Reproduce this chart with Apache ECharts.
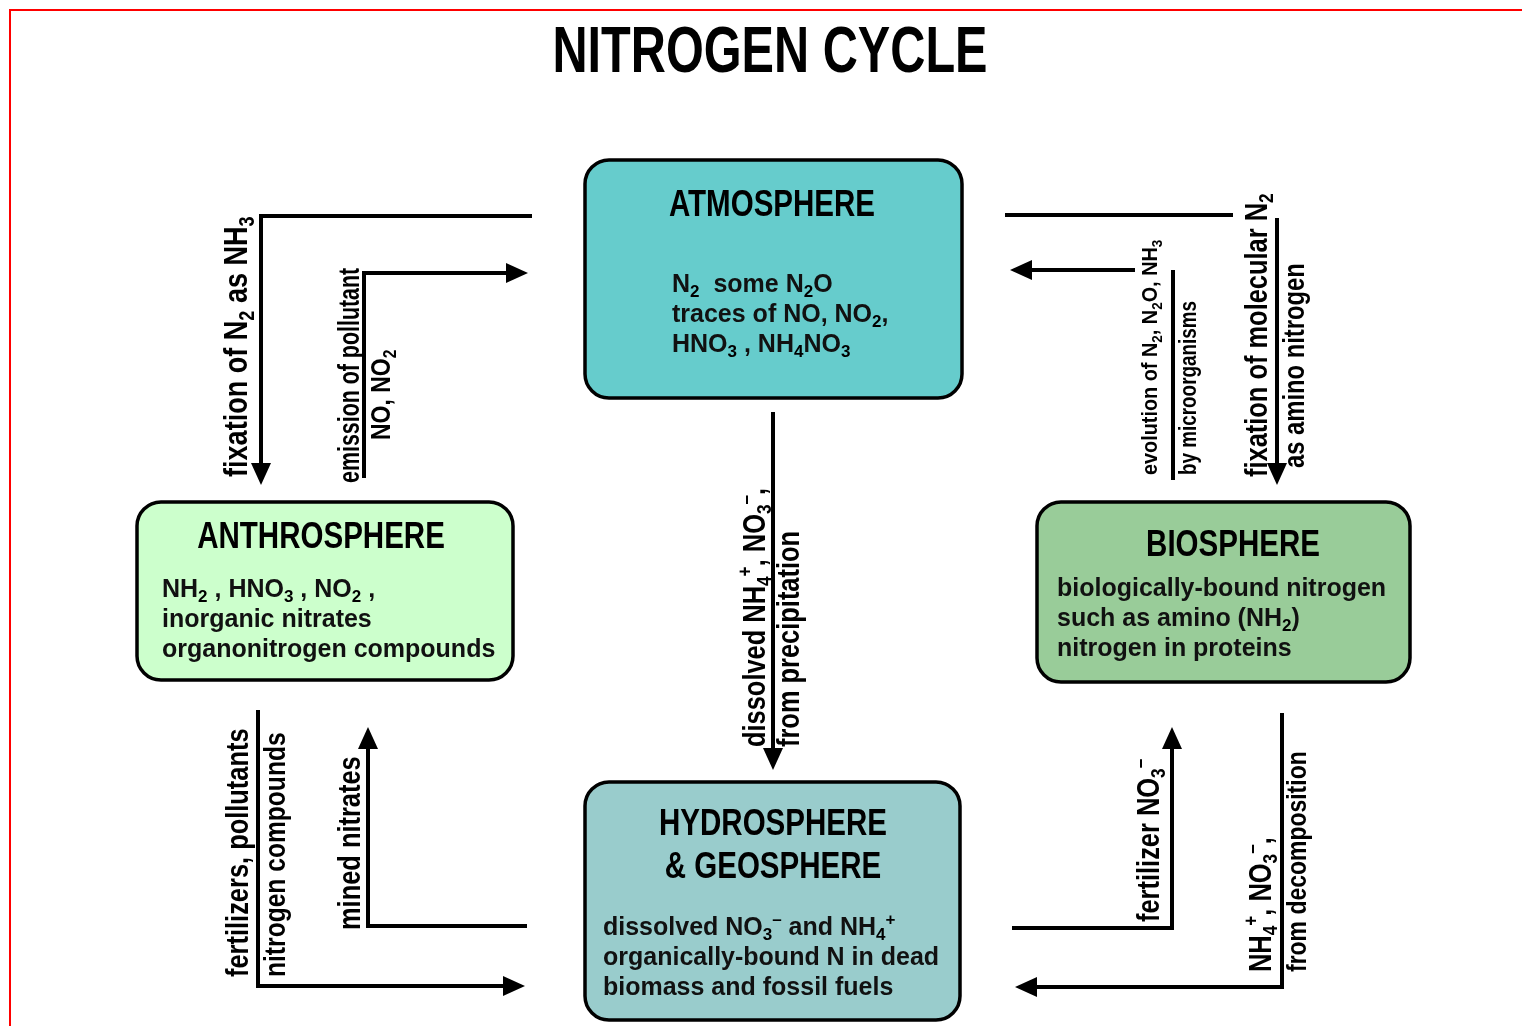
<!DOCTYPE html>
<html>
<head>
<meta charset="utf-8">
<title>Nitrogen cycle</title>
<script src="https://cdn.jsdelivr.net/npm/echarts@6.0.0/dist/echarts.min.js"></script>
<style>
html, body { margin: 0; padding: 0; background: #fff; }
#nitrogen_chart { width: 1522px; height: 1026px; }
</style>
</head>
<body>
<div id="nitrogen_chart"></div>
<script>
var FONT = '"Liberation Sans", Arimo, "DejaVu Sans", sans-serif';
// no narrow face installed: squeeze the normal one instead
var NARROW_SCALE = 0.82;

// ---- texts of the diagram ----
var chartTitle = 'NITROGEN CYCLE';

var sphereNames = ['ATMOSPHERE', 'ANTHROSPHERE', 'BIOSPHERE', 'HYDROSPHERE\n& GEOSPHERE'];

var sphereContents = [
	'N{sub|2}  some N{sub|2}O\ntraces of NO, NO{sub|2},\nHNO{sub|3} , NH{sub|4}NO{sub|3}',
	'NH{sub|2} , HNO{sub|3} , NO{sub|2} ,\ninorganic nitrates\norganonitrogen compounds',
	'biologically-bound nitrogen\nsuch as amino (NH{sub|2})\nnitrogen in proteins',
	'dissolved NO{sub|3}{sup|\u2013} and NH{sub|4}{sup|+}\norganically-bound N in dead\nbiomass and fossil fuels'
];

var flowLabels = [
	'fixation of N{sub|2} as NH{sub|3}',
	'emission of pollutant',
	'NO, NO{sub|2}',
	'evolution of N{sub|2}, N{sub|2}O, NH{sub|3}',
	'by microorganisms',
	'fixation of molecular N{sub|2}',
	'as amino nitrogen',
	'dissolved NH{sub|4}{sup|+}, NO{sub|3}{sup|\u2013},',
	'from precipitation',
	'fertilizers, pollutants',
	'nitrogen compounds',
	'mined nitrates',
	'fertilizer NO{sub|3}{sup|\u2013}',
	'NH{sub|4}{sup|+}, NO{sub|3}{sup|\u2013},',
	'from decomposition'
];

// ---- layout (page pixels, y downwards) ----
var sphereBoxes = [[585, 160, 962, 398], [137, 502, 513, 680], [1037, 502, 1410, 682], [585, 782, 960, 1020]];
var sphereColors = ['#66cccc', '#ccffcc', '#99cc99', '#99cccc'];
var nameAnchors = [[772, 206], [321, 538], [1233, 546], [773, 847]];
var contentAnchors = [[672, 315], [162, 620], [1057, 619], [603, 958]];

var flowPaths = [
	{pts: [[532, 216], [261, 216], [261, 485]], head: true},
	{pts: [[364, 478], [364, 273], [528, 273]], head: true},
	{pts: [[1005, 215], [1233, 215]], head: false},
	{pts: [[1277, 218], [1277, 485]], head: true},
	{pts: [[1135, 270], [1010, 270]], head: true},
	{pts: [[1173, 270], [1173, 480]], head: false},
	{pts: [[773, 412], [773, 770]], head: true},
	{pts: [[258, 710], [258, 986], [525, 986]], head: true},
	{pts: [[527, 926], [368, 926], [368, 727]], head: true},
	{pts: [[1012, 928], [1172, 928], [1172, 727]], head: true},
	{pts: [[1282, 713], [1282, 987], [1015, 987]], head: true}
];

// [centre x, start y (bottom end), font size, squeeze along the text]
var labelLayout = [
	[238, 477, 33, 1],
	[351, 483, 29, 0.9],
	[382, 440, 28, 1],
	[1151, 475, 22, 1.1],
	[1190, 475, 23, 1],
	[1258, 477, 31, 1],
	[1296, 468, 29, 1],
	[756, 747, 31, 1],
	[790, 747, 31, 1],
	[239, 977, 31, 1],
	[277, 977, 30, 1],
	[351, 930, 31, 1],
	[1150, 922, 31, 1],
	[1262, 972, 31, 1],
	[1298, 972, 28, 1]
];

var richFor = function (size, lh) {
	var small = Math.round(size * 0.68);
	var shift = Math.round(size * 0.6);
	var base = {fontSize: small, fontFamily: FONT, fontWeight: 'bold', fill: '#000', lineHeight: Math.round(lh * 0.6)};
	return {
		sub: echarts.util.extend({padding: [shift, 0, 0, 0]}, base),
		sup: echarts.util.extend({padding: [0, 0, shift, 0]}, base)
	};
};

var renderSphere = function (params, api) {
	var i = params.dataIndex;
	var b = sphereBoxes[i];
	var p0 = api.coord([b[0], b[1]]), p1 = api.coord([b[2], b[3]]);
	var n = api.coord(nameAnchors[i]);
	var c = api.coord(contentAnchors[i]);
	return {
		type: 'group',
		children: [
			{type: 'rect', shape: {x: p0[0], y: p0[1], width: p1[0] - p0[0], height: p1[1] - p0[1], r: 24},
				style: {fill: sphereColors[i], stroke: '#000', lineWidth: 3.5}},
			{type: 'text', x: n[0], y: n[1], scaleX: NARROW_SCALE,
				style: {text: sphereNames[i], fontFamily: FONT, fontWeight: 'bold', fontSize: 36, lineHeight: 43,
					fill: '#000', align: 'center', verticalAlign: 'middle'}},
			{type: 'text', x: c[0], y: c[1],
				style: {text: sphereContents[i], fontFamily: FONT, fontWeight: 'bold', fontSize: 25, lineHeight: 30,
					fill: '#111', align: 'left', verticalAlign: 'middle', rich: richFor(25, 30)}}
		]
	};
};

var renderFlow = function (params, api) {
	var f = flowPaths[params.dataIndex];
	var pts = f.pts.map(function (d) { return api.coord(d); });
	var children = [];
	if (f.head) {
		var a = pts[pts.length - 2], t = pts[pts.length - 1];
		var dx = t[0] - a[0], dy = t[1] - a[1];
		var len = Math.sqrt(dx * dx + dy * dy);
		dx /= len; dy /= len;
		var L = 22, W = 10;
		var bx = t[0] - dx * L, by = t[1] - dy * L;
		children.push({type: 'polygon', shape: {points: [t, [bx - dy * W, by + dx * W], [bx + dy * W, by - dx * W]]},
			style: {fill: '#000'}});
		pts[pts.length - 1] = [t[0] - dx * L * 0.6, t[1] - dy * L * 0.6];
	}
	children.unshift({type: 'polyline', shape: {points: pts},
		style: {stroke: '#000', lineWidth: 4, fill: null, lineJoin: 'miter', lineCap: 'butt'}});
	return {type: 'group', children: children};
};

var renderLabel = function (params, api) {
	var l = labelLayout[params.dataIndex];
	var p = api.coord([l[0], l[1]]);
	var lh = Math.round(l[2] * 1.2);
	return {
		type: 'text', x: p[0], y: p[1], rotation: Math.PI / 2, scaleX: NARROW_SCALE * l[3],
		style: {text: flowLabels[params.dataIndex], fontFamily: FONT, fontWeight: 'bold', fontSize: l[2],
			lineHeight: lh, fill: '#000', align: 'left', verticalAlign: 'middle', rich: richFor(l[2], lh)}
	};
};

var indexData = function (list) {
	return list.map(function (item, i) { return [i, 0]; });
};

var myChart = echarts.init(document.getElementById('nitrogen_chart'));
var option = {
	animation: false,
	backgroundColor: '#fff',
	grid: {left: 0, right: 0, top: 0, bottom: 0},
	xAxis: {type: 'value', min: 0, max: 1522, show: false},
	yAxis: {type: 'value', min: 0, max: 1026, inverse: true, show: false},
	graphic: [
		{type: 'line', shape: {x1: 9, y1: 10, x2: 1522, y2: 10}, style: {stroke: '#ff0000', lineWidth: 2}},
		{type: 'line', shape: {x1: 10, y1: 10, x2: 10, y2: 1026}, style: {stroke: '#ff0000', lineWidth: 2}},
		{type: 'text', x: 770, y: 54, scaleX: 0.76,
			style: {text: chartTitle, fontFamily: FONT, fontWeight: 'bold', fontSize: 64, fill: '#000',
				align: 'center', verticalAlign: 'middle'}}
	],
	series: [
		{type: 'custom', name: 'flows', coordinateSystem: 'cartesian2d', clip: false, silent: true,
			renderItem: renderFlow, data: indexData(flowPaths)},
		{type: 'custom', name: 'spheres', coordinateSystem: 'cartesian2d', clip: false, silent: true,
			renderItem: renderSphere, data: indexData(sphereNames)},
		{type: 'custom', name: 'flow labels', coordinateSystem: 'cartesian2d', clip: false, silent: true,
			renderItem: renderLabel, data: indexData(flowLabels)}
	]
};
myChart.setOption(option);
</script>
</body>
</html>
